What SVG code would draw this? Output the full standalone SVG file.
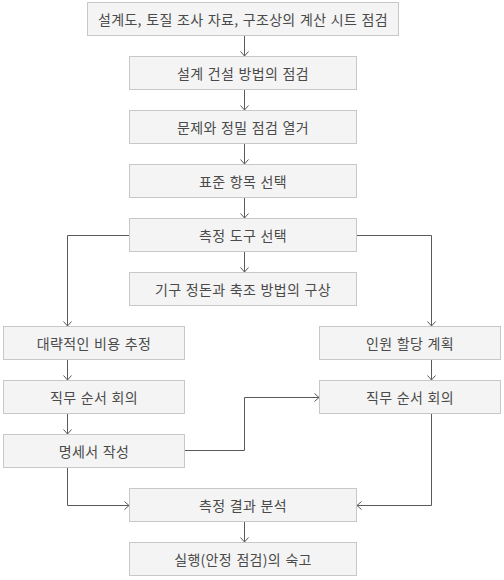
<svg xmlns="http://www.w3.org/2000/svg" width="504" height="580" viewBox="0 0 504 580">
<defs>
<style>
.b rect{fill:#f4f4f4;stroke:#c8c8c8;stroke-width:1}
.b text{font-family:"Noto Sans CJK KR","Noto Sans",sans-serif;font-size:14px;letter-spacing:0.3px;word-spacing:1px;fill:#4a4a4a;text-anchor:middle;dominant-baseline:central}
.c path{fill:none;stroke:#5a5a5a;stroke-width:1;marker-end:url(#a)}
</style>
<marker id="a" markerWidth="10" markerHeight="10" refX="6" refY="5" orient="auto" markerUnits="userSpaceOnUse">
<path d="M1.5,1 L6,5 L1.5,9" fill="none" stroke="#5a5a5a" stroke-width="1"/>
</marker>
</defs>
<rect width="504" height="580" fill="#fff"/>
<g class="c">
<path d="M244.5,35 V56"/>
<path d="M244.5,89 V110"/>
<path d="M244.5,143 V164"/>
<path d="M244.5,197 V218"/>
<path d="M244.5,251 V272"/>
<path d="M129.5,235.5 H67.5 V326"/>
<path d="M356.5,235.5 H431.5 V326"/>
<path d="M67.5,359 V380"/>
<path d="M67.5,413 V434"/>
<path d="M431.5,359 V380"/>
<path d="M184.5,450.5 H244.5 V397.5 H319"/>
<path d="M67.5,467 V505.5 H129"/>
<path d="M431.5,413 V505.5 H357"/>
<path d="M244.5,521 V542"/>
</g>
<g id="n1" class="b"><rect x="87.5" y="2.5" width="311" height="33"/><text x="243" y="19">설계도, 토질 조사 자료, 구조상의 계산 시트 점검</text></g>
<g id="n2" class="b"><rect x="129.5" y="56.5" width="227" height="33"/><text x="243" y="73">설계 건설 방법의 점검</text></g>
<g id="n3" class="b"><rect x="129.5" y="110.5" width="227" height="33"/><text x="243" y="127">문제와 정밀 점검 열거</text></g>
<g id="n4" class="b"><rect x="129.5" y="164.5" width="227" height="33"/><text x="243" y="181">표준 항목 선택</text></g>
<g id="n5" class="b"><rect x="129.5" y="218.5" width="227" height="33"/><text x="243" y="235">측정 도구 선택</text></g>
<g id="n6" class="b"><rect x="129.5" y="272.5" width="227" height="33"/><text x="243" y="289">기구 정돈과 축조 방법의 구상</text></g>
<g id="n7" class="b"><rect x="3.5" y="326.5" width="181" height="33"/><text x="94" y="343">대략적인 비용 추정</text></g>
<g id="n8" class="b"><rect x="319.5" y="326.5" width="181" height="33"/><text x="410" y="343">인원 할당 계획</text></g>
<g id="n9" class="b"><rect x="3.5" y="380.5" width="181" height="33"/><text x="94" y="397">직무 순서 회의</text></g>
<g id="n10" class="b"><rect x="319.5" y="380.5" width="181" height="33"/><text x="410" y="397">직무 순서 회의</text></g>
<g id="n11" class="b"><rect x="3.5" y="434.5" width="181" height="33"/><text x="94" y="451">명세서 작성</text></g>
<g id="n12" class="b"><rect x="129.5" y="488.5" width="227" height="33"/><text x="243" y="505">측정 결과 분석</text></g>
<g id="n13" class="b"><rect x="129.5" y="542.5" width="227" height="33"/><text x="243" y="559">실행(안정 점검)의 숙고</text></g>
</svg>
